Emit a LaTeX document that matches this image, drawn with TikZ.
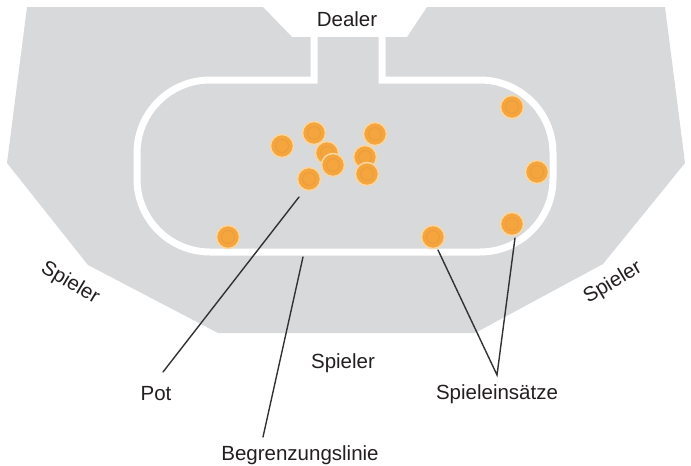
\documentclass[tikz,border=0pt]{standalone}
\usepackage{fontspec}
\setmainfont{Liberation Sans}
\definecolor{tablegray}{RGB}{216,217,219}
\definecolor{chipor}{RGB}{244,165,62}
\definecolor{chiprim}{RGB}{250,214,160}
\definecolor{chipin}{RGB}{238,156,56}
\definecolor{linec}{RGB}{50,50,52}
\definecolor{labeltext}{RGB}{35,31,32}
\begin{document}
\begin{tikzpicture}[x=1pt,y=-1pt,
  lbl/.style={font=\fontsize{20.5}{24}\selectfont, text=labeltext, inner sep=0pt},
  conn/.style={draw=linec, line width=1.4pt, line cap=round},
  boundary/.style={draw=white, line width=7pt},
  chip/.style={circle, minimum size=23pt, inner sep=0pt, fill=chipor, draw=chiprim, line width=1.5pt,
    path picture={\draw[chipin, line width=0.9pt] (path picture bounding box.center) circle (6.5pt);}}]
\useasboundingbox (0,0) rectangle (691,466);
% table
\fill[tablegray] (27,7) -- (263,7) -- (292,37) -- (407,37) -- (427,7) -- (665,7) -- (685,163)
  -- (603,264) -- (475,333) -- (218,333) -- (88,265) -- (7,163) -- cycle;
% boundary line
\draw[boundary] (314,37) -- (314,80) -- (210,80) arc[start angle=270, end angle=180, radius=73]
  -- (137,179) arc[start angle=180, end angle=90, radius=73]
  -- (480,252) arc[start angle=90, end angle=0, radius=73]
  -- (553,153) arc[start angle=0, end angle=-90, radius=73]
  -- (382,80) -- (382,37);
% chips
\node[chip] (c1) at (282,146) {};
\node[chip] (c2) at (314,133) {};
\node[chip] (c3) at (375,134) {};
\node[chip] (c4) at (327,153) {};
\node[chip] (c5) at (333,165) {};
\node[chip] (c6) at (365,157) {};
\node[chip] (c7) at (367,174) {};
\node[chip] (c8) at (309,179) {};
\node[chip] (c9) at (512,107) {};
\node[chip] (c10) at (537,172) {};
\node[chip] (c11) at (512,224) {};
\node[chip] (c12) at (228,237) {};
\node[chip] (c13) at (433,237) {};
% labels
\node[lbl, anchor=base] (dealer) at (347,26) {Dealer};
\node[lbl, anchor=base] (spB) at (343,368) {Spieler};
\node[lbl, anchor=center, rotate=-31] (spL) at (70,283) {Spieler};
\node[lbl, anchor=center, rotate=31] (spR) at (613,283) {Spieler};
\node[lbl, anchor=base] (pot) at (156,400) {Pot};
\node[lbl, anchor=base] (begr) at (300,460) {Begrenzungslinie};
\node[lbl, anchor=base] (einsatz) at (497,399) {Spieleinsätze};
% connector ends
\coordinate (potA) at (299,197);
\coordinate (potB) at (163,372);
\coordinate (begA) at (303,257);
\coordinate (begB) at (263,437);
\coordinate (einA) at (438,250);
\coordinate (einB) at (515,238);
\coordinate (einApex) at (497,375);
\draw[conn] (potA) -- (potB);
\draw[conn] (begA) -- (begB);
\draw[conn] (einA) -- (einApex) -- (einB);
\end{tikzpicture}
\end{document}
